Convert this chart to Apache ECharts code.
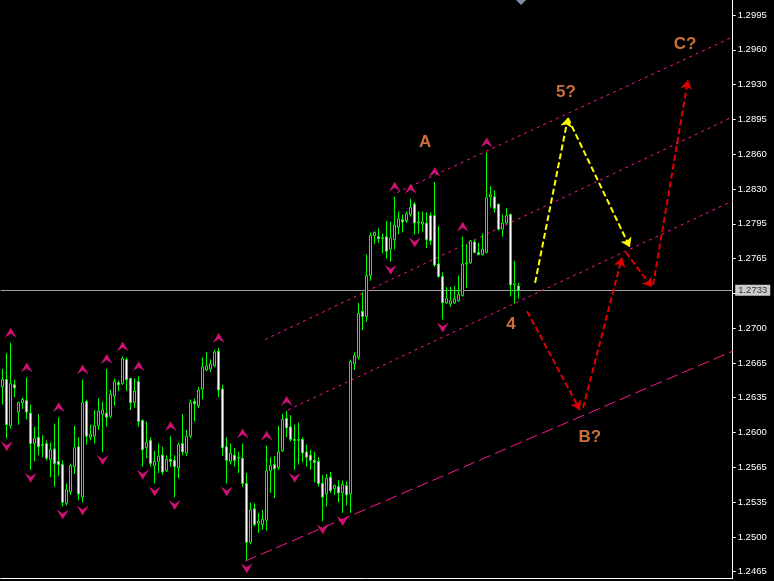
<!DOCTYPE html>
<html><head><meta charset="utf-8">
<script src="https://cdn.jsdelivr.net/npm/echarts@6/dist/echarts.min.js"></script>
<style>html,body{margin:0;padding:0;background:#000;}#c{width:774px;height:581px;}</style>
</head><body><div id="c"></div>
<script>
// [open, close, low, high]
const ohlc = [
[1.2641,1.2648,1.2624,1.2658],[1.2648,1.2605,1.2592,1.2673],[1.2604,1.2644,1.2601,1.2683],[1.2643,1.2640,1.2631,1.2648],
[1.2617,1.2626,1.2605,1.2627],[1.2626,1.2629,1.2620,1.2631],[1.2628,1.2617,1.2610,1.2650],[1.2616,1.2587,1.2562,1.2624],
[1.2587,1.2592,1.2570,1.2603],[1.2593,1.2584,1.2576,1.2615],[1.2585,1.2586,1.2574,1.2595],[1.2587,1.2573,1.2571,1.2590],
[1.2572,1.2581,1.2555,1.2588],[1.2582,1.2568,1.2546,1.2606],[1.2570,1.2567,1.2556,1.2612],[1.2567,1.2531,1.2527,1.2571],
[1.2530,1.2543,1.2528,1.2549],[1.2541,1.2566,1.2538,1.2568],[1.2565,1.2583,1.2558,1.2604],[1.2584,1.2539,1.2533,1.2593],
[1.2536,1.2626,1.2531,1.2648],[1.2627,1.2594,1.2586,1.2629],[1.2593,1.2596,1.2590,1.2605],[1.2594,1.2604,1.2587,1.2619],
[1.2604,1.2618,1.2600,1.2630],[1.2615,1.2619,1.2579,1.2627],[1.2616,1.2612,1.2603,1.2658],[1.2613,1.2634,1.2611,1.2638],
[1.2632,1.2646,1.2623,1.2649],[1.2645,1.2643,1.2637,1.2647],[1.2644,1.2668,1.2643,1.2670],[1.2667,1.2648,1.2637,1.2669],
[1.2649,1.2626,1.2619,1.2649],[1.2626,1.2637,1.2621,1.2649],[1.2646,1.2608,1.2603,1.2651],[1.2609,1.2581,1.2565,1.2610],
[1.2583,1.2588,1.2573,1.2608],[1.2590,1.2568,1.2565,1.2593],[1.2566,1.2570,1.2549,1.2580],[1.2570,1.2575,1.2559,1.2587],
[1.2576,1.2560,1.2557,1.2584],[1.2561,1.2572,1.2560,1.2576],[1.2572,1.2570,1.2565,1.2594],[1.2571,1.2565,1.2536,1.2576],
[1.2564,1.2586,1.2554,1.2588],[1.2587,1.2579,1.2576,1.2615],[1.2578,1.2594,1.2575,1.2600],[1.2594,1.2626,1.2592,1.2629],
[1.2627,1.2625,1.2608,1.2630],[1.2623,1.2638,1.2621,1.2641],[1.2639,1.2660,1.2629,1.2669],[1.2657,1.2661,1.2656,1.2674],
[1.2658,1.2663,1.2655,1.2667],[1.2661,1.2674,1.2660,1.2676],[1.2675,1.2638,1.2631,1.2678],[1.2639,1.2583,1.2575,1.2643],
[1.2584,1.2571,1.2549,1.2593],[1.2570,1.2578,1.2567,1.2587],[1.2576,1.2571,1.2565,1.2583],[1.2573,1.2574,1.2559,1.2579],
[1.2573,1.2549,1.2546,1.2587],[1.2549,1.2493,1.2476,1.2559],[1.2493,1.2524,1.2491,1.2531],[1.2525,1.2510,1.2508,1.2530],
[1.2511,1.2513,1.2502,1.2521],[1.2510,1.2515,1.2505,1.2524],[1.2514,1.2561,1.2504,1.2585],[1.2561,1.2566,1.2540,1.2574],
[1.2567,1.2563,1.2535,1.2575],[1.2564,1.2579,1.2562,1.2604],[1.2580,1.2610,1.2579,1.2615],[1.2611,1.2602,1.2593,1.2618],
[1.2603,1.2591,1.2589,1.2614],[1.2591,1.2590,1.2562,1.2605],[1.2590,1.2591,1.2567,1.2607],[1.2591,1.2578,1.2569,1.2593],
[1.2579,1.2574,1.2565,1.2586],[1.2576,1.2571,1.2562,1.2581],[1.2571,1.2569,1.2550,1.2579],[1.2570,1.2549,1.2546,1.2574],
[1.2549,1.2536,1.2513,1.2557],[1.2539,1.2554,1.2527,1.2558],[1.2555,1.2542,1.2540,1.2560],[1.2544,1.2547,1.2538,1.2548],
[1.2546,1.2540,1.2531,1.2552],[1.2540,1.2548,1.2521,1.2552],[1.2547,1.2538,1.2528,1.2551],[1.2539,1.2665,1.2521,1.2667],
[1.2663,1.2671,1.2657,1.2674],[1.2669,1.2711,1.2667,1.2721],[1.2713,1.2708,1.2695,1.2731],[1.2708,1.2747,1.2703,1.2767],
[1.2747,1.2785,1.2742,1.2788],[1.2785,1.2788,1.2777,1.2789],[1.2784,1.2782,1.2778,1.2792],[1.2782,1.2783,1.2768,1.2787],
[1.2784,1.2770,1.2763,1.2799],[1.2772,1.2783,1.2760,1.2798],[1.2781,1.2795,1.2772,1.2822],[1.2793,1.2801,1.2786,1.2808],
[1.2800,1.2798,1.2788,1.2805],[1.2799,1.2806,1.2797,1.2808],[1.2805,1.2812,1.2803,1.2820],[1.2815,1.2797,1.2786,1.2817],
[1.2797,1.2798,1.2787,1.2808],[1.2796,1.2798,1.2789,1.2808],[1.2797,1.2781,1.2773,1.2807],[1.2804,1.2780,1.2776,1.2807],
[1.2804,1.2757,1.2755,1.2836],[1.2758,1.2746,1.2745,1.2794],[1.2746,1.2721,1.2705,1.2750],[1.2721,1.2725,1.2720,1.2736],
[1.2720,1.2723,1.2717,1.2736],[1.2721,1.2725,1.2720,1.2737],[1.2723,1.2729,1.2722,1.2747],[1.2728,1.2758,1.2727,1.2784],
[1.2758,1.2759,1.2735,1.2777],[1.2759,1.2780,1.2758,1.2781],[1.2779,1.2769,1.2768,1.2781],[1.2769,1.2767,1.2766,1.2778],
[1.2767,1.2772,1.2766,1.2787],[1.2769,1.2821,1.2768,1.2864],[1.2822,1.2824,1.2812,1.2832],[1.2822,1.2811,1.2807,1.2828],
[1.2815,1.2791,1.2790,1.2815],[1.2791,1.2797,1.2784,1.2805],[1.2797,1.2804,1.2796,1.2811],[1.2805,1.2738,1.2727,1.2806],
[1.2738,1.2739,1.2720,1.2761],[1.2737,1.2733,1.2725,1.2740]
];
const fractalUp = [2,6,14,20,26,30,34,42,54,60,66,71,98,102,108,115,121];
const fractalDown = [1,7,15,20,25,35,38,43,56,61,73,80,85,97,103,110];
const slotCount = 183;
const priceMin = 1.24590, priceMax = 1.30093;
const tickLabels = ['1.2465','1.2500','1.2535','1.2565','1.2600','1.2635','1.2665','1.2700','',
                    '1.2765','1.2795','1.2830','1.2860','1.2895','1.2930','1.2960','1.2995'];
const lastPrice = 1.2733;
// channel lines: [[barIndex, price], [barIndex, price]]
const channelDashed = [[[60.6,1.2475],[182.5,1.2675]]];
const channelDotted = [
  [[71.3,1.2619],[182.5,1.2818]],
  [[65.6,1.2686],[182.5,1.2898]],
  [[98.6,1.2826],[182.5,1.2974]]
];
const yellowArrows = [[[133.1,1.2740],[141.3,1.2897]], [[141.3,1.2897],[156.8,1.2774]]];
const redArrows = [
  [[131.1,1.2713],[144.3,1.2619]],
  [[145.1,1.2621],[154.8,1.2764]],
  [[155.8,1.2769],[162.3,1.2736]],
  [[162.6,1.2738],[171.3,1.2933]]
];
const waveLabels = [['A',105.6,1.2874],['5?',140.8,1.2921],['C?',170.6,1.2967],['4',127.1,1.2701],['B?',146.8,1.2593]];

const cats = Array.from({length: slotCount}, (_, i) => String(i));
const PINK = '#ff1493';
const chart = echarts.init(document.getElementById('c'));
chart.setOption({
  backgroundColor: '#000',
  animation: false,
  grid: [
    {left: 0.7, top: 0, width: 732, height: 578},
    {left: 0.7, top: 15, width: 732, height: 556.7}
  ],
  xAxis: [
    {type: 'category', gridIndex: 0, data: cats, boundaryGap: true,
     axisLine: {show: true, onZero: false, lineStyle: {color: '#ffffff', width: 1}},
     axisTick: {show: false}, axisLabel: {show: false}, splitLine: {show: false}},
    {type: 'value', gridIndex: 0, min: -0.5, max: slotCount - 0.5, show: false},
    {type: 'value', gridIndex: 1, min: 1, max: 2, show: false}
  ],
  yAxis: [
    {type: 'value', gridIndex: 0, position: 'right', min: priceMin, max: priceMax, scale: true,
     axisLine: {show: true, onZero: false, lineStyle: {color: '#ffffff', width: 1}},
     axisTick: {show: false}, axisLabel: {show: false}, splitLine: {show: false}},
    {type: 'value', gridIndex: 1, position: 'right', min: 0, max: tickLabels.length - 1, interval: 1,
     axisLine: {show: false, onZero: false},
     axisTick: {show: true, length: 3, lineStyle: {color: '#ffffff'}},
     axisLabel: {color: '#ffffff', fontSize: 9.5, fontFamily: 'Liberation Sans', margin: 5,
                 formatter: v => tickLabels[Math.round(v)]},
     splitLine: {show: false}}
  ],
  series: [
    {type: 'lines', coordinateSystem: 'cartesian2d', xAxisIndex: 1, yAxisIndex: 0, silent: true,
     data: [{coords: [[-0.5, lastPrice], [slotCount - 0.5, lastPrice]]}], symbol: ['none', 'none'],
     lineStyle: {color: '#a0a0a0', width: 1, type: 'solid', opacity: 1}},
    {type: 'lines', coordinateSystem: 'cartesian2d', xAxisIndex: 1, yAxisIndex: 0, silent: true,
     data: channelDashed.map(c => ({coords: c})), symbol: ['none', 'none'],
     lineStyle: {color: PINK, width: 1, type: [12, 5], opacity: 1}},
    {type: 'lines', coordinateSystem: 'cartesian2d', xAxisIndex: 1, yAxisIndex: 0, silent: true,
     data: channelDotted.map(c => ({coords: c})), symbol: ['none', 'none'],
     lineStyle: {color: PINK, width: 1, type: [3, 4], opacity: 1}},
    {type: 'candlestick', xAxisIndex: 0, yAxisIndex: 0, data: ohlc, barWidth: 3, silent: true,
     itemStyle: {color: '#000000', color0: '#ffffff', borderColor: '#00ff00', borderColor0: '#00ff00', borderWidth: 1}},
    {type: 'scatter', xAxisIndex: 0, yAxisIndex: 0, silent: true,
     data: fractalUp.map(k => [k, ohlc[k][3]]),
     symbol: 'path://M6,0L12,10L6,6L0,10Z', symbolSize: [12, 10], symbolOffset: [0, -10],
     itemStyle: {color: PINK}},
    {type: 'scatter', xAxisIndex: 0, yAxisIndex: 0, silent: true,
     data: fractalDown.map(k => [k, ohlc[k][2]]),
     symbol: 'path://M0,0L6,4L12,0L6,10Z', symbolSize: [12, 10], symbolOffset: [0, 8],
     itemStyle: {color: PINK}},
    {type: 'lines', coordinateSystem: 'cartesian2d', xAxisIndex: 1, yAxisIndex: 0, silent: true,
     data: yellowArrows.map(c => ({coords: c})), symbol: ['none', 'arrow'], symbolSize: 9,
     lineStyle: {color: '#ffff00', width: 2, type: [6, 3], opacity: 1}},
    {type: 'lines', coordinateSystem: 'cartesian2d', xAxisIndex: 1, yAxisIndex: 0, silent: true,
     data: redArrows.map(c => ({coords: c})), symbol: ['none', 'arrow'], symbolSize: 9,
     lineStyle: {color: '#e00000', width: 2, type: [6, 3], opacity: 1}},
    {type: 'scatter', xAxisIndex: 1, yAxisIndex: 0, silent: true,
     data: waveLabels.map(w => ({name: w[0], value: [w[1], w[2]]})),
     symbolSize: 1, itemStyle: {color: 'rgba(0,0,0,0)'},
     label: {show: true, position: 'inside', formatter: '{b}', color: '#ff8c48',
             fontSize: 17, fontWeight: 'bold', fontFamily: 'Liberation Sans'}},
    {type: 'scatter', xAxisIndex: 1, yAxisIndex: 0, silent: true, clip: false, z: 10,
     data: [[slotCount - 0.5, lastPrice]],
     symbolSize: 1, itemStyle: {color: 'rgba(0,0,0,0)'},
     label: {show: true, position: 'right', distance: 2, formatter: () => lastPrice.toFixed(4),
             backgroundColor: '#ffffff', color: '#000000', fontSize: 9.5, fontFamily: 'Liberation Sans',
             padding: [1, 3, 0, 3]}}
  ],
  graphic: [
    {type: 'polygon', shape: {points: [[516, 0], [526, 0], [521, 5]]}, style: {fill: '#7f8fa6'}, silent: true}
  ]
});
</script>
</body></html>
